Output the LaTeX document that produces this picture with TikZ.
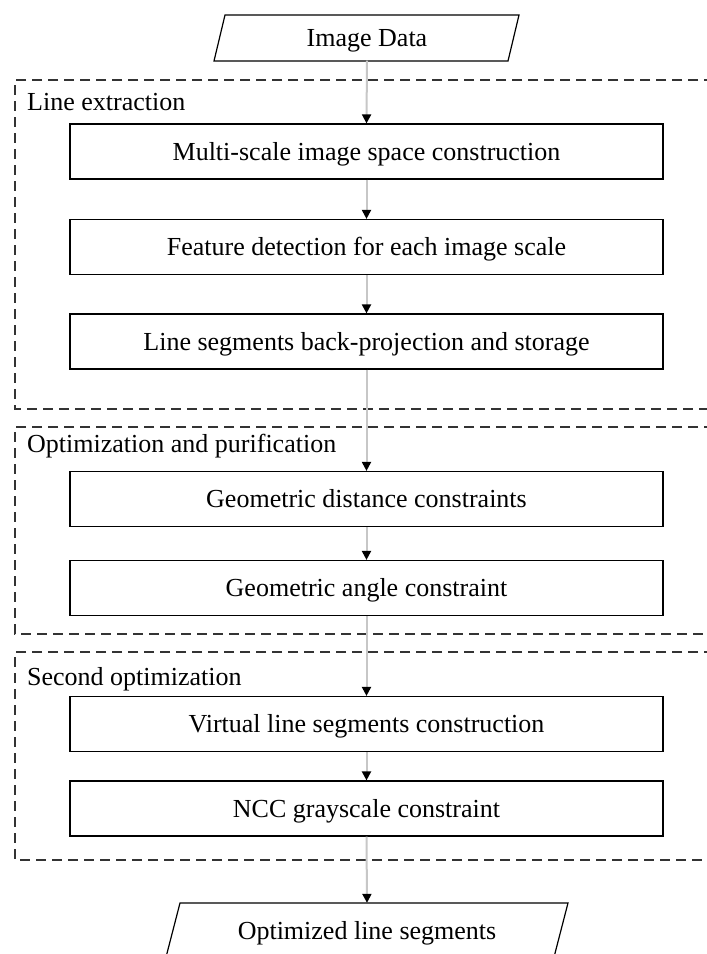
\documentclass[tikz,border=0pt]{standalone}
\usepackage{fontspec}
\setmainfont{Liberation Serif}
\usetikzlibrary{arrows.meta}
\tikzset{
  txt/.style={font=\fontsize{26}{30}\selectfont, text height=20pt, text depth=3pt},
  stepbox/.style={txt, draw=black, line width=1.2pt, minimum width=593pt, minimum height=55pt, inner sep=0pt},
  group/.style={draw=black!80, line width=1.5pt, dash pattern=on 10pt off 6pt},
  grouplabel/.style={txt, anchor=west, inner sep=0pt},
  flow/.style={draw=black!22, line width=2pt, -{Triangle[length=9pt,width=9pt,black]}},
  iotext/.style={txt, inner sep=0pt},
  para/.style={draw=black, line width=1.2pt, line join=miter}
}
\begin{document}
\begin{tikzpicture}[x=1pt,y=-1pt]
\clip (0,0) rectangle (707,954);
\fill[white] (0,0) rectangle (707,954);
% groups
\draw[group] (730,80) -- (15,80) -- (15,409) -- (730,409);
\draw[group] (730,427) -- (15,427) -- (15,634) -- (730,634);
\draw[group] (730,652) -- (15,652) -- (15,860) -- (730,860);
\node[grouplabel] (g1) at (27,101.5) {Line extraction};
\node[grouplabel] (g2) at (27,443.5) {Optimization and purification};
\node[grouplabel] (g3) at (27,676.5) {Second optimization};
% input / output
\draw[para] (214,61) -- (225,15) -- (519,15) -- (508,61) -- cycle;
\node[iotext, minimum width=294pt, minimum height=46pt] (in) at (367,37.5) {Image Data};
\draw[para] (165,961) -- (180,903) -- (568,903) -- (553,961) -- cycle;
\node[iotext, minimum width=380pt, minimum height=55pt] (out) at (367,930.5) {Optimized line segments};
% steps
\node[stepbox] (s1) at (366.5,151.5) {Multi-scale image space construction};
\node[stepbox] (s2) at (366.5,247) {Feature detection for each image scale};
\node[stepbox] (s3) at (366.5,341.5) {Line segments back-projection and storage};
\node[stepbox] (s4) at (366.5,499) {Geometric distance constraints};
\node[stepbox] (s5) at (366.5,588) {Geometric angle constraint};
\node[stepbox] (s6) at (366.5,724) {Virtual line segments construction};
\node[stepbox] (s7) at (366.5,808.5) {NCC grayscale constraint};
% flow
\draw[flow] (in.south) -- (s1.north);
\draw[flow] (s1.south) -- (s2.north);
\draw[flow] (s2.south) -- (s3.north);
\draw[flow] (s3.south) -- (s4.north);
\draw[flow] (s4.south) -- (s5.north);
\draw[flow] (s5.south) -- (s6.north);
\draw[flow] (s6.south) -- (s7.north);
\draw[flow] (s7.south) -- (out.north);
\end{tikzpicture}
\end{document}
